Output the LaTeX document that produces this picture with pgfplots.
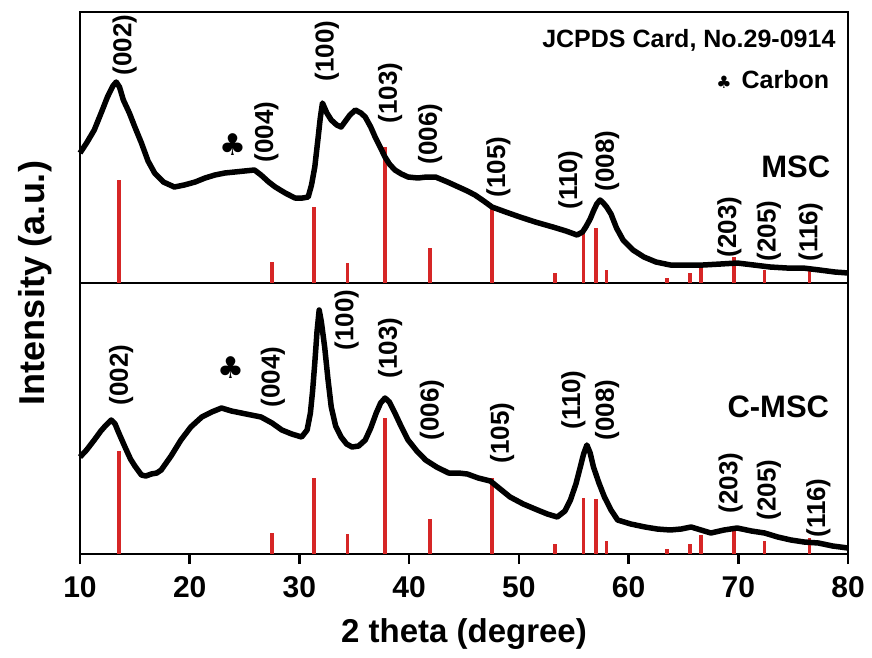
\documentclass[border=0pt]{standalone}
\usepackage{pgfplots}
\pgfplotsset{compat=1.18}
\usepackage{fontspec}
\setmainfont{Liberation Sans}
\newfontfamily\symfont{DejaVu Sans}
\definecolor{stickred}{RGB}{214,38,38}
\newcommand{\hkl}[1]{\fontsize{26}{30}\selectfont\bfseries #1}
\pgfplotstableread{
x y
13.55 103
27.5 21
31.35 76
34.4 20
37.8 136
41.9 35
47.55 76
53.3 10
55.9 56
57.05 55
58.0 13
63.5 5
65.6 10
66.6 19
69.6 26
72.4 13
76.5 16
}\sticks
\pgfplotstableread{
x y
10.0 130
10.6 140
11.3 153
12.0 172
12.5 186
13.0 197
13.3 201
13.6 196
13.95 183
14.5 170
15.0 156
15.6 140
16.2 122
16.8 110
17.6 101
18.6 96
19.5 98
20.5 101
21.4 105
22.3 108
23.2 110
24.1 111
25.0 112
25.9 113
26.5 108
27.2 101
27.8 96
28.7 90
29.6 85
30.3 85
30.8 86
31.1 98
31.4 116
31.7 145
31.9 165
32.1 180
32.5 170
32.9 163
33.4 158
33.8 156
34.2 162
34.6 168
35.1 173
35.6 170
36.0 166
36.5 156
36.9 146
37.4 135
37.8 126
38.2 119
38.7 113
39.3 109
39.9 106
40.8 105
41.6 106
42.4 106
43.5 101
44.5 96
45.3 92
46.0 88
46.8 82
47.55 76
48.8 71
50.1 66
51.5 61
53.1 56
54.3 52
55.3 48
55.8 51
56.1 56
56.5 64
56.8 72
57.1 79
57.4 83
57.7 80
58.0 76
58.4 69
58.9 55
59.5 43
60.4 33
61.4 26
62.5 21
63.8 18
65.3 18
66.8 18
68.4 19
69.9 20
71.4 18
72.9 16
74.4 15
75.9 15
77.4 13
78.8 11
80.0 10
}\msc
\pgfplotstableread{
x y
10.0 97
10.6 104
11.3 114
11.9 123
12.3 128
12.85 134
13.2 130
13.5 122
14.1 107
14.6 95
15.0 88
15.6 79
16.0 78
16.5 80
17.0 81
17.4 84
18.3 98
19.2 114
20.1 127
21.1 137
22.0 142
22.9 146
23.8 143
24.7 141
25.6 139
26.5 137
27.5 131
28.4 124
29.3 120
30.2 117
30.7 124
31.0 141
31.2 163
31.4 191
31.6 222
31.8 244
32.0 232
32.3 207
32.6 175
32.9 147
33.3 128
33.8 117
34.3 110
34.8 107
35.4 108
36.0 114
36.5 126
37.0 141
37.4 151
37.8 156
38.2 152
38.7 141
39.3 127
39.9 114
40.7 103
41.5 94
42.5 87
43.6 81
44.5 81
45.3 80
46.3 76
47.4 73
48.3 65
49.2 57
50.4 50
51.7 44
52.6 40
53.5 37
54.2 43
54.7 54
55.2 70
55.6 87
55.9 100
56.2 109
56.5 101
56.8 87
57.3 71
57.8 57
58.4 44
59.0 34
60.2 30
61.5 27
62.6 25
63.8 24
64.8 25
65.7 27
66.6 24
67.5 21
68.7 24
69.9 26
71.2 23
72.4 21
73.6 17
74.8 14
76.0 12
77.3 11
78.6 8
80.0 6
}\cmsc
\begin{document}
\begin{tikzpicture}
\useasboundingbox (-80pt,-103pt) rectangle (792pt,554pt);
\pgfplotsset{
  panel/.style={
    width=768pt, height=271pt, scale only axis,
    xmin=10, xmax=80, ymin=0, ymax=271,
    axis line style={line width=2.5pt},
    ytick=\empty, clip=false,
    tick style={line width=2.5pt, black},
    tick align=outside, major tick length=10pt,
    xtick pos=bottom,
  },
  stickplot/.style={ycomb, no marks, color=stickred, line width=3.5pt},
  curve/.style={no marks, black, line width=5.5pt, line join=round},
}
% bottom panel: C-MSC
\begin{axis}[panel, at={(0pt,0pt)}, anchor=south west,
  xtick={10,20,...,80},
  /pgf/number format/assume math mode=true,
  xticklabel style={font=\fontsize{30}{34}\selectfont\bfseries, yshift=-9pt},
  xlabel={2 theta (degree)},
  xlabel style={font=\fontsize{33}{38}\selectfont\bfseries, at={(axis description cs:0.5,0)}, anchor=center, yshift=-80pt},
]
\addplot[stickplot] table {\sticks};
\addplot[curve] table {\cmsc};
\node[rotate=90] at (axis cs:13.76,179) {\hkl{(002)}};
\node at (axis cs:23.8,186) {\fontsize{30}{34}\selectfont\symfont ♣};
\node[rotate=90] at (axis cs:27.58,177) {\hkl{(004)}};
\node[rotate=90] at (axis cs:34.3,234) {\hkl{(100)}};
\node[rotate=90] at (axis cs:38.26,206) {\hkl{(103)}};
\node[rotate=90] at (axis cs:42.07,144) {\hkl{(006)}};
\node[rotate=90] at (axis cs:48.47,121) {\hkl{(105)}};
\node[rotate=90] at (axis cs:54.98,154) {\hkl{(110)}};
\node[rotate=90] at (axis cs:58.05,144) {\hkl{(008)}};
\node[rotate=90] at (axis cs:69.3,71) {\hkl{(203)}};
\node[rotate=90] at (axis cs:72.8,64) {\hkl{(205)}};
\node[rotate=90] at (axis cs:77.3,46) {\hkl{(116)}};
\node[anchor=east] at (axis cs:78.6,147) {\fontsize{31}{36}\selectfont\bfseries C-MSC};
\end{axis}
% top panel: MSC
\begin{axis}[panel, at={(0pt,271pt)}, anchor=south west,
  xtick=\empty,
]
\addplot[stickplot] table {\sticks};
\addplot[curve] table {\msc};
\node[rotate=90] at (axis cs:14.06,238) {\hkl{(002)}};
\node at (axis cs:23.93,138) {\fontsize{30}{34}\selectfont\symfont ♣};
\node[rotate=90] at (axis cs:27.0,151) {\hkl{(004)}};
\node[rotate=90] at (axis cs:32.5,232) {\hkl{(100)}};
\node[rotate=90] at (axis cs:38.26,190) {\hkl{(103)}};
\node[rotate=90] at (axis cs:41.92,149) {\hkl{(006)}};
\node[rotate=90] at (axis cs:48.13,116) {\hkl{(105)}};
\node[rotate=90] at (axis cs:54.7,103) {\hkl{(110)}};
\node[rotate=90] at (axis cs:58.05,122) {\hkl{(008)}};
\node[rotate=90] at (axis cs:69.2,56) {\hkl{(203)}};
\node[rotate=90] at (axis cs:72.8,52) {\hkl{(205)}};
\node[rotate=90] at (axis cs:76.6,51) {\hkl{(116)}};
\node[anchor=east] at (axis cs:79.18,243) {\fontsize{25}{30}\selectfont\bfseries JCPDS Card, No.29-0914};
\node[anchor=east] at (axis cs:78.6,203) {{\fontsize{17}{20}\selectfont\symfont ♣}\hspace{10pt}{\fontsize{25}{30}\selectfont\bfseries Carbon}};
\node[anchor=east] at (axis cs:78.7,116) {\fontsize{31}{36}\selectfont\bfseries MSC};
\end{axis}
\node[rotate=90] at (-45pt,271pt) {\fontsize{36}{42}\selectfont\bfseries Intensity (a.u.)};
\end{tikzpicture}
\end{document}
